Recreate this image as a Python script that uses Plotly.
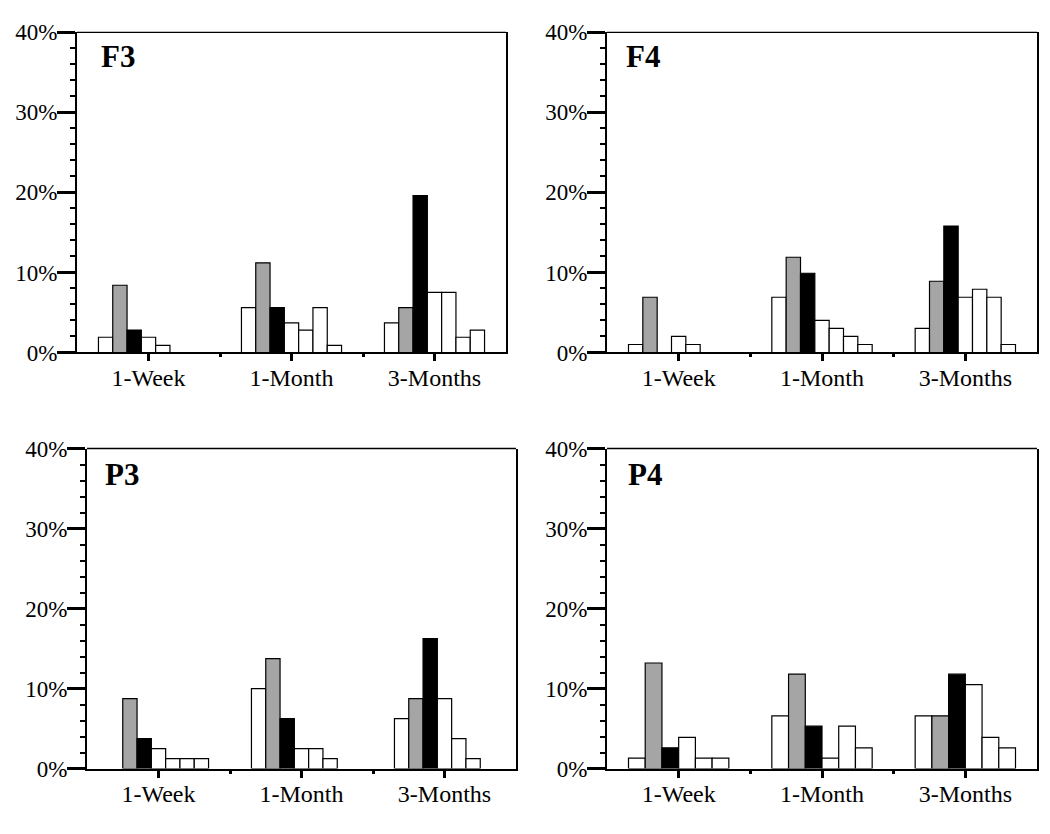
import plotly.graph_objects as go

categories = ["1-Week", "1-Month", "3-Months"]
y_ticks = [0, 10, 20, 30, 40]
y_tick_labels = ["0%", "10%", "20%", "30%", "40%"]

# Each panel: list of series; each series gives values (in %) for the 3 categories
# (None = no bar drawn in that slot)
F3_series = [
    [1.9, 5.6, 3.7],
    [8.4, 11.2, 5.6],
    [2.8, 5.6, 19.6],
    [1.9, 3.7, 7.5],
    [0.9, 2.8, 7.5],
    [None, 5.6, 1.9],
    [None, 0.9, 2.8],
]
F4_series = [
    [1.0, 6.9, 3.0],
    [6.9, 11.9, 8.9],
    [None, 9.9, 15.8],
    [2.0, 4.0, 6.9],
    [1.0, 3.0, 7.9],
    [None, 2.0, 6.9],
    [None, 1.0, 1.0],
]
P3_series = [
    [None, 10.0, 6.25],
    [8.75, 13.75, 8.75],
    [3.75, 6.25, 16.25],
    [2.5, 2.5, 8.75],
    [1.25, 2.5, 3.75],
    [1.25, 1.25, 1.25],
    [1.25, None, None],
]
P4_series = [
    [1.3, 6.6, 6.6],
    [13.2, 11.8, 6.6],
    [2.6, 5.3, 11.8],
    [3.9, 1.3, 10.5],
    [1.3, 5.3, 3.9],
    [1.3, 2.6, 2.6],
]
series_colors = ["#ffffff", "#a5a5a5", "#000000", "#ffffff", "#ffffff", "#ffffff", "#ffffff"]

panels = [
    ("F3", F3_series, [77 / 1050, 506 / 1050], [(834 - 351) / 834, (834 - 21) / 834], 0.052, 0.925),
    ("F4", F4_series, [607 / 1050, 1037 / 1050], [(834 - 351) / 834, (834 - 21) / 834], 0.040, 0.925),
    ("P3", P3_series, [87 / 1050, 516 / 1050], [(834 - 780) / 834, (834 - 450) / 834], 0.038, 0.918),
    ("P4", P4_series, [607 / 1050, 1037 / 1050], [(834 - 780) / 834, (834 - 450) / 834], 0.045, 0.918),
]

FONT = "Liberation Serif"
fig = go.Figure()
layout = {}
annotations = []
shapes = []
xpos = list(range(len(categories)))

for i, (name, series, xdom, ydom, lx, ly) in enumerate(panels):
    n = i + 1
    xa = "x" if n == 1 else f"x{n}"
    ya = "y" if n == 1 else f"y{n}"
    for s, vals in enumerate(series):
        fig.add_trace(go.Bar(
            x=xpos, y=vals, xaxis=xa, yaxis=ya,
            marker=dict(color=series_colors[s], line=dict(color="#000000", width=1.2)),
            showlegend=False, hoverinfo="y",
        ))
    xkey = "xaxis" if n == 1 else f"xaxis{n}"
    ykey = "yaxis" if n == 1 else f"yaxis{n}"
    layout[xkey] = dict(
        domain=xdom, anchor=ya, range=[-0.5, 2.5],
        tickmode="array", tickvals=xpos, ticktext=categories,
        ticks="outside", ticklen=7, tickwidth=2.5, tickcolor="#000",
        ticklabelstandoff=-4,
        showline=True, linewidth=2, linecolor="#000", mirror=False,
        showgrid=False, zeroline=False,
        tickfont=dict(family=FONT, size=24, color="#000"),
        minor=dict(tickmode="array", tickvals=[0.5, 1.5], ticks="outside",
                   ticklen=3, tickwidth=2.5, tickcolor="#000", showgrid=False),
        fixedrange=True,
    )
    layout[ykey] = dict(
        domain=ydom, anchor=xa, range=[0, 40],
        tickmode="array", tickvals=y_ticks, ticktext=y_tick_labels,
        ticks="outside", ticklen=18, tickwidth=2.5, tickcolor="#000",
        ticklabelstandoff=-5,
        showline=True, linewidth=2, linecolor="#000", mirror=True,
        showgrid=False, zeroline=False,
        tickfont=dict(family=FONT, size=23, color="#000"),
        minor=dict(dtick=2, tick0=0, ticks="outside", ticklen=5, tickwidth=2,
                   tickcolor="#000", showgrid=False),
        fixedrange=True,
    )
    shapes.append(dict(type="line", xref=f"{xa} domain", yref=f"{ya} domain",
                       x0=0, x1=1, y0=1, y1=1, line=dict(color="#000", width=1.4)))
    annotations.append(dict(text=f"<b>{name}</b>", xref=f"{xa} domain", yref=f"{ya} domain",
                            x=lx, y=ly, xanchor="left", yanchor="middle", showarrow=False,
                            font=dict(family=FONT, size=31, color="#000")))

fig.update_layout(
    **layout,
    barmode="group", bargap=0.3, bargroupgap=0,
    width=1050, height=834,
    margin=dict(l=0, r=0, t=0, b=0),
    paper_bgcolor="#ffffff", plot_bgcolor="#ffffff",
    annotations=annotations, shapes=shapes,
    showlegend=False,
)

fig.write_html("out.html", post_script="document.body.style.margin='0px';",
               config={"displayModeBar": False})
